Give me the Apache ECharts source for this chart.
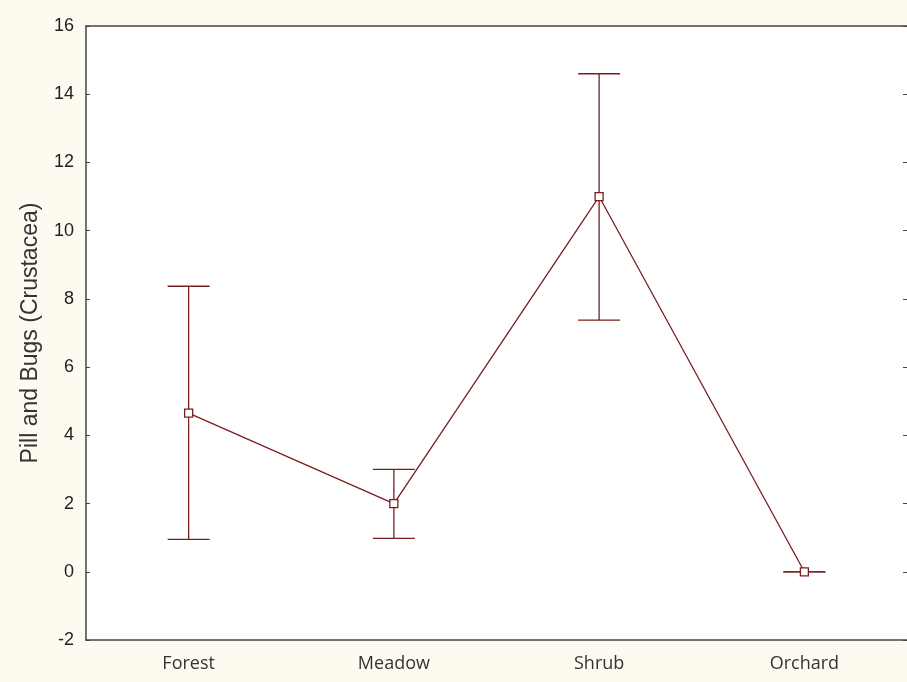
<!DOCTYPE html>
<html>
<head>
<meta charset="utf-8">
<script src="https://cdn.jsdelivr.net/npm/echarts@6/dist/echarts.min.js"></script>
<style>
  html, body { margin: 0; padding: 0; background: #fdfaf0; }
  #chart { width: 907px; height: 682px; }
</style>
</head>
<body>
<div id="chart"></div>
<script>
// Habitat categories and pill-bug counts (mean with error range)
const habitats = ['Forest', 'Meadow', 'Shrub', 'Orchard'];
const means = [4.65, 2.0, 11.0, 0.0];
const lower = [0.95, 0.98, 7.38, 0.0];
const upper = [8.37, 3.0, 14.6, 0.0];
const yTicks = { min: -2, max: 16, step: 2 };

const maroon = '#7a1e1e';
const frame = '#444444';

const chart = echarts.init(document.getElementById('chart'));

const errorData = habitats.map((h, i) => [i, lower[i], upper[i]]);

chart.setOption({
  backgroundColor: '#fdfaf0',
  animation: false,
  grid: {
    left: 86, top: 26, width: 823, height: 614,
    show: true, backgroundColor: '#ffffff', borderWidth: 0
  },
  xAxis: [
    {
      type: 'category', data: habitats, position: 'bottom',
      axisLine: { onZero: false, lineStyle: { color: frame, width: 1.5 } },
      axisTick: { inside: true, alignWithLabel: true, length: 4, lineStyle: { color: frame } },
      axisLabel: { color: '#333', fontFamily: 'Open Sans', fontSize: 18, margin: 15 },
      splitLine: { show: false }
    },
    {
      type: 'category', data: habitats, position: 'top',
      axisLine: { onZero: false, lineStyle: { color: frame, width: 1.5 } },
      axisTick: { inside: true, alignWithLabel: true, length: 4, lineStyle: { color: frame } },
      axisLabel: { show: false },
      splitLine: { show: false }
    }
  ],
  yAxis: [
    {
      type: 'value', position: 'left',
      min: yTicks.min, max: yTicks.max, interval: yTicks.step,
      name: 'Pill and Bugs (Crustacea)',
      nameLocation: 'middle', nameRotate: 90, nameGap: 44,
      nameTextStyle: { color: '#333', fontFamily: 'Liberation Sans', fontSize: 23 },
      axisLine: { show: true, onZero: false, lineStyle: { color: frame, width: 1.5 } },
      axisTick: { show: true, inside: true, length: 4, lineStyle: { color: frame } },
      axisLabel: { color: '#222', fontFamily: 'Liberation Sans', fontSize: 18, margin: 12 },
      splitLine: { show: false }
    },
    {
      type: 'value', position: 'right',
      min: yTicks.min, max: yTicks.max, interval: yTicks.step,
      axisLine: { show: false },
      axisTick: { show: true, inside: true, length: 4, lineStyle: { color: frame } },
      axisLabel: { show: false },
      splitLine: { show: false }
    }
  ],
  series: [
    {
      type: 'custom',
      name: 'range',
      xAxisIndex: 0, yAxisIndex: 0,
      data: errorData,
      z: 2,
      renderItem: function (params, api) {
        const x = api.value(0);
        const lo = api.coord([x, api.value(1)]);
        const hi = api.coord([x, api.value(2)]);
        const half = 21;
        const style = { stroke: maroon, lineWidth: 1.3, fill: null };
        return {
          type: 'group',
          children: [
            { type: 'line', shape: { x1: hi[0], y1: hi[1], x2: lo[0], y2: lo[1] }, style: style },
            { type: 'line', shape: { x1: hi[0] - half, y1: hi[1], x2: hi[0] + half, y2: hi[1] }, style: style },
            { type: 'line', shape: { x1: lo[0] - half, y1: lo[1], x2: lo[0] + half, y2: lo[1] }, style: style }
          ]
        };
      }
    },
    {
      type: 'line',
      name: 'mean',
      xAxisIndex: 0, yAxisIndex: 0,
      data: means,
      z: 3,
      symbol: 'rect',
      symbolSize: 8,
      lineStyle: { color: maroon, width: 1.3 },
      itemStyle: { color: '#ffffff', borderColor: maroon, borderWidth: 1.3 }
    }
  ]
});
</script>
</body>
</html>
